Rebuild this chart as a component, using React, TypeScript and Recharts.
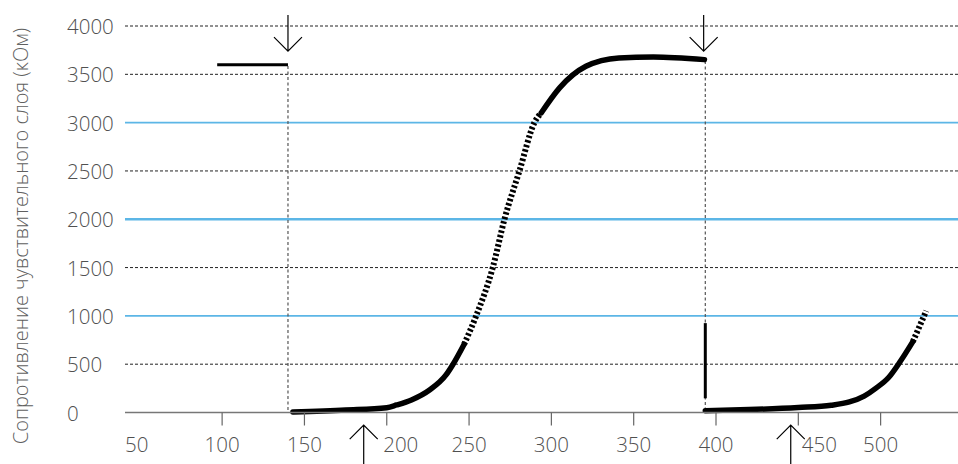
import React from 'react';
import { ComposedChart, Line, XAxis, YAxis, ReferenceLine, ReferenceDot } from 'recharts';

// temperature (x) vs resistance of the sensing layer, kOhm (y)
const X_TICKS = [50, 100, 150, 200, 250, 300, 350, 400, 450, 500];
const Y_TICKS = [0, 500, 1000, 1500, 2000, 2500, 3000, 3500, 4000];
const DASHED_LEVELS = [500, 1500, 2500, 3500, 4000];
const BLUE_LEVELS = [1000, 3000];
const BOLD_BLUE_LEVELS = [2000];

const heldLevel = [
  { t: 97, r: 3600 },
  { t: 140, r: 3600 },
];

const riseLow = [
  { t: 143, r: 5 },
  { t: 175, r: 26 },
  { t: 200, r: 50 },
  { t: 206, r: 78 },
  { t: 215, r: 130 },
  { t: 226, r: 233 },
  { t: 236, r: 389 },
  { t: 240, r: 492 },
  { t: 247, r: 707 },
];

const riseMissing = [
  { t: 247, r: 707 },
  { t: 254.3, r: 1000 },
  { t: 264.4, r: 1500 },
  { t: 271.5, r: 2000 },
  { t: 280.6, r: 2500 },
  { t: 289.7, r: 3000 },
  { t: 293.8, r: 3100 },
];

const riseHigh = [
  { t: 293.8, r: 3100 },
  { t: 305, r: 3360 },
  { t: 321, r: 3583 },
  { t: 341, r: 3670 },
  { t: 362, r: 3680 },
  { t: 393, r: 3652 },
];

const dropLine = [
  { t: 393.5, r: 925 },
  { t: 393.5, r: 147 },
];

const secondLow = [
  { t: 393.5, r: 18 },
  { t: 420, r: 30 },
  { t: 450, r: 52 },
  { t: 470, r: 75 },
  { t: 481, r: 109 },
  { t: 490, r: 170 },
  { t: 497, r: 250 },
  { t: 505, r: 365 },
  { t: 512, r: 530 },
  { t: 519.6, r: 734 },
];

const secondMissing = [
  { t: 519.6, r: 734 },
  { t: 527.7, r: 1052 },
];

const switchMarks = [
  { t: 140, r: 3600 },
  { t: 393.5, r: 3652 },
];
const downArrows = [140, 392.5];
const upArrows = [186, 445.4];

const FONT = '"Open Sans", "Liberation Sans", sans-serif';
const TEXT = '#505050';
const BLUE = '#5cb6e6';
const X_LABEL_NUDGE: Record<number, number> = { 50: -3, 200: 14, 450: 21 };

function XTick({ x, y, payload }: any) {
  const v = payload.value;
  return (
    <g>
      {v !== 50 && <line x1={x} x2={x} y1={y} y2={y + 13} stroke="#666" strokeWidth={1.2} />}
      <text x={x + (X_LABEL_NUDGE[v] ?? 0)} y={y + 31} textAnchor="middle" dominantBaseline="central"
        fontFamily={FONT} fontWeight={300} fontSize={20.5} fill={TEXT}>
        {v}
      </text>
    </g>
  );
}

function YTick({ x, y, payload }: any) {
  return (
    <text x={x - 58} y={y} textAnchor="start" dominantBaseline="central"
      fontFamily={FONT} fontWeight={300} fontSize={20.5} fill={TEXT}>
      {payload.value}
    </text>
  );
}

function YLabel() {
  const cy = 236;
  return (
    <text x={20} y={cy} transform={`rotate(-90 20 ${cy})`} textAnchor="middle" dominantBaseline="central"
      fontFamily={FONT} fontWeight={300} fontSize={20} fill="#606060">
      Сопротивление чувствительного слоя (кОм)
    </text>
  );
}

const DownArrow = ({ cx, cy }: any) => (
  <path d={`M${cx},${cy - 36}L${cx},${cy}M${cx - 14},${cy - 14}L${cx},${cy}L${cx + 14},${cy - 14}`}
    fill="none" stroke="#000" strokeWidth={1.2} />
);

const UpArrow = ({ cx, cy }: any) => (
  <path d={`M${cx},${cy + 45}L${cx},${cy}M${cx - 14},${cy + 14}L${cx},${cy}L${cx + 14},${cy + 14}`}
    fill="none" stroke="#000" strokeWidth={1.2} />
);

export default function App() {
  return (
    <div style={{ position: 'absolute', left: 0, top: 0 }}>
      <ComposedChart width={958} height={464} margin={{ top: 26, right: 0, bottom: 0, left: 0 }}>
        <XAxis type="number" dataKey="t" domain={[41, 547]} allowDataOverflow ticks={X_TICKS}
          height={51.5} tickSize={0} tickMargin={0} tickLine={false}
          axisLine={{ stroke: '#777', strokeWidth: 1.5 }} tick={<XTick />} interval={0} />
        <YAxis type="number" dataKey="r" domain={[0, 4000]} ticks={Y_TICKS} width={125}
          tickSize={0} tickMargin={0} tickLine={false} axisLine={false} tick={<YTick />}
          interval={0} label={{ content: () => <YLabel /> }} />

        {DASHED_LEVELS.map((v) => (
          <ReferenceLine key={'d' + v} y={v} stroke="#222" strokeWidth={1} strokeDasharray="3 2" />
        ))}
        {BLUE_LEVELS.map((v) => (
          <ReferenceLine key={'b' + v} y={v} stroke={BLUE} strokeWidth={1.6} />
        ))}
        {BOLD_BLUE_LEVELS.map((v) => (
          <ReferenceLine key={'bb' + v} y={v} stroke={BLUE} strokeWidth={2.6} />
        ))}
        {switchMarks.map((m) => (
          <ReferenceLine key={'s' + m.t} segment={[{ x: m.t, y: m.r - 15 }, { x: m.t, y: 0 }]}
            stroke="#555" strokeWidth={1.2} strokeDasharray="3 2.5" />
        ))}

        <Line data={heldLevel} dataKey="r" type="linear" stroke="#000" strokeWidth={3}
          dot={false} isAnimationActive={false} />
        <Line data={riseLow} dataKey="r" type="monotone" stroke="#000" strokeWidth={5.5}
          strokeLinecap="round" dot={false} isAnimationActive={false} />
        <Line data={riseMissing} dataKey="r" type="monotone" stroke="#000" strokeWidth={6}
          strokeDasharray="2.5 2.2" dot={false} isAnimationActive={false} />
        <Line data={riseHigh} dataKey="r" type="monotone" stroke="#000" strokeWidth={5.5}
          strokeLinecap="round" dot={false} isAnimationActive={false} />
        <Line data={dropLine} dataKey="r" type="linear" stroke="#000" strokeWidth={3}
          dot={false} isAnimationActive={false} />
        <Line data={secondLow} dataKey="r" type="monotone" stroke="#000" strokeWidth={5.5}
          strokeLinecap="round" dot={false} isAnimationActive={false} />
        <Line data={secondMissing} dataKey="r" type="linear" stroke="#000" strokeWidth={6}
          strokeDasharray="2.5 2.2" dot={false} isAnimationActive={false} />

        {downArrows.map((t) => (
          <ReferenceDot key={'da' + t} x={t} y={3740} ifOverflow="visible" shape={<DownArrow />} />
        ))}
        {upArrows.map((t) => (
          <ReferenceDot key={'ua' + t} x={t} y={-130} ifOverflow="visible" shape={<UpArrow />} />
        ))}
      </ComposedChart>
    </div>
  );
}
